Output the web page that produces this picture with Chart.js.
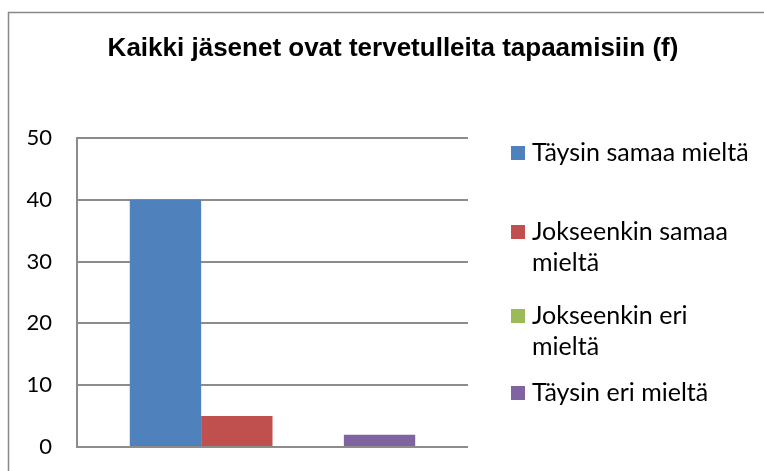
<!DOCTYPE html>
<html>
<head>
<meta charset="utf-8">
<script src="https://cdn.jsdelivr.net/npm/chart.js@4"></script>
<style>
  html, body { margin: 0; padding: 0; background: #fff; }
  canvas { display: block; }
</style>
</head>
<body>
<canvas id="chart" width="764" height="471"></canvas>
<script>
const titleText = 'Kaikki jäsenet ovat tervetulleita tapaamisiin (f)';
const categories = [''];
const seriesNames = ['Täysin samaa mieltä', 'Jokseenkin samaa mieltä', 'Jokseenkin eri mieltä', 'Täysin eri mieltä'];
const legendLines = [['Täysin samaa mieltä'], ['Jokseenkin samaa', 'mieltä'], ['Jokseenkin eri', 'mieltä'], ['Täysin eri mieltä']];
const seriesValues = [[40], [5], [0], [2]];
const seriesColors = ['#4f81bd', '#c0504d', '#9bbb59', '#8064a2'];
const yTicks = [0, 10, 20, 30, 40, 50];

window.addEventListener('load', () => {

    const gridColor = '#8c8c8c';
    const labelFont = 'Lato';

    // border, title and legend are drawn by hand, Excel style
    const extras = {
        id: 'extras',
        beforeDraw(chart) {
            const ctx = chart.ctx;
            ctx.save();
            ctx.fillStyle = '#fff';
            ctx.fillRect(0, 0, chart.width, chart.height);
            ctx.strokeStyle = '#888';
            ctx.lineWidth = 1.5;
            ctx.strokeRect(8.5, 12.5, chart.width + 20, chart.height + 20);
            ctx.restore();
        },
        afterDraw(chart) {
            const ctx = chart.ctx;
            ctx.save();

            ctx.fillStyle = '#000';
            ctx.font = 'bold 26px "Liberation Sans", Arial, sans-serif';
            ctx.textAlign = 'center';
            ctx.textBaseline = 'alphabetic';
            ctx.fillText(titleText, 393, 56);

            const boxX = 511, boxSize = 14, textX = 532, lineH = 31;
            const itemTops = [146, 225, 309, 386];
            ctx.font = '25px ' + labelFont;
            ctx.textAlign = 'left';
            chart.data.datasets.forEach((ds, i) => {
                const top = itemTops[i];
                ctx.fillStyle = ds.backgroundColor;
                ctx.fillRect(boxX, top, boxSize, boxSize);
                ctx.fillStyle = '#000';
                legendLines[i].forEach((line, j) => {
                    ctx.fillText(line, textX, top + 15 + j * lineH);
                });
            });

            ctx.restore();
        }
    };

    const datasets = seriesNames.map((name, i) => ({
        label: name,
        data: seriesValues[i],
        backgroundColor: seriesColors[i],
        borderWidth: 0,
        barPercentage: 1,
        categoryPercentage: 0.73
    }));

    new Chart(document.getElementById('chart'), {
        type: 'bar',
        data: { labels: categories, datasets },
        options: {
            responsive: false,
            animation: false,
            layout: { padding: { left: 0, right: 296, top: 138, bottom: 24 } },
            plugins: {
                legend: { display: false },
                title: { display: false },
                tooltip: { enabled: false }
            },
            scales: {
                x: {
                    ticks: { display: false },
                    grid: { display: false, drawTicks: false },
                    border: { display: false },
                    afterFit(s) { s.height = 0; s.paddingLeft = 0; s.paddingRight = 0; }
                },
                y: {
                    min: 0,
                    max: 50,
                    afterBuildTicks(s) { s.ticks = yTicks.map(v => ({ value: v })); },
                    afterFit(s) { s.width = 77; s.paddingTop = 0; s.paddingBottom = 0; },
                    ticks: {
                        padding: 25,
                        color: '#000',
                        font: { family: labelFont, size: 22 }
                    },
                    grid: { color: gridColor, lineWidth: 2, drawTicks: false },
                    border: { display: true, color: gridColor, width: 2 }
                }
            }
        },
        plugins: [extras]
    });

});
</script>
</body>
</html>
